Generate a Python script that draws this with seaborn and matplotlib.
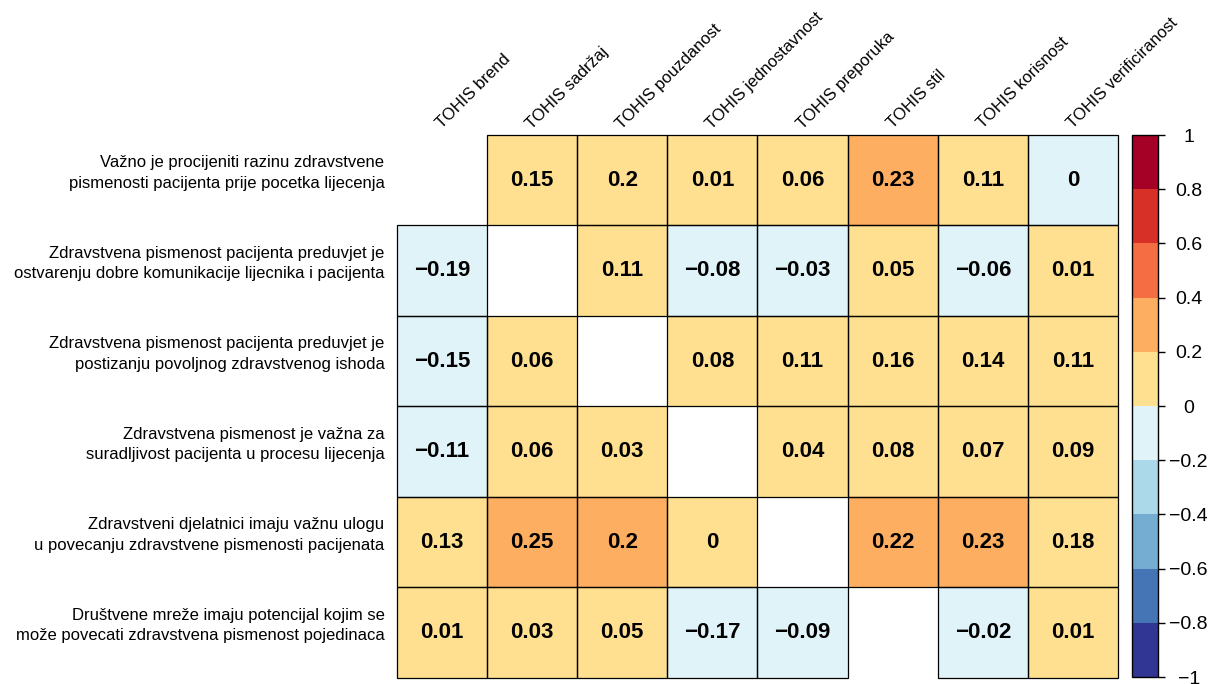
import numpy as np
import pandas as pd
import seaborn as sns
from matplotlib import pyplot as plt
from matplotlib.colors import ListedColormap
from matplotlib.patches import Rectangle

kolone = ["TOHIS brend", "TOHIS sadržaj", "TOHIS pouzdanost", "TOHIS jednostavnost",
          "TOHIS preporuka", "TOHIS stil", "TOHIS korisnost", "TOHIS verificiranost"]
redovi = ["Važno je procijeniti razinu zdravstvene\npismenosti pacijenta prije pocetka lijecenja",
          "Zdravstvena pismenost pacijenta preduvjet je\nostvarenju dobre komunikacije lijecnika i pacijenta",
          "Zdravstvena pismenost pacijenta preduvjet je\npostizanju povoljnog zdravstvenog ishoda",
          "Zdravstvena pismenost je važna za\nsuradljivost pacijenta u procesu lijecenja",
          "Zdravstveni djelatnici imaju važnu ulogu\nu povecanju zdravstvene pismenosti pacijenata",
          "Društvene mreže imaju potencijal kojim se\nmože povecati zdravstvena pismenost pojedinaca"]

red1 = [np.nan, 0.15, 0.198, 0.01, 0.06, 0.23, 0.11, -0.004]
red2 = [-0.19, np.nan, 0.11, -0.08, -0.03, 0.05, -0.06, 0.01]
red3 = [-0.15, 0.06, np.nan, 0.08, 0.11, 0.16, 0.14, 0.11]
red4 = [-0.11, 0.06, 0.03, np.nan, 0.04, 0.08, 0.07, 0.09]
red5 = [0.13, 0.25, 0.204, 0.004, np.nan, 0.22, 0.23, 0.18]
red6 = [0.01, 0.03, 0.05, -0.17, -0.09, np.nan, -0.02, 0.01]

boje = ["#313695", "#4575b4", "#74add1", "#abd9e9", "#e0f3f8",
        "#fee090", "#fdae61", "#f46d43", "#d73027", "#a50026"]

data = pd.DataFrame([red1, red2, red3, red4, red5, red6], index=redovi, columns=kolone)

def fmt(v):
    if np.isnan(v):
        return ""
    return f"{round(v, 2) + 0:g}".replace("-", "\u2212")

oznake = data.map(fmt).values

plt.rcParams['font.family'] = ['Liberation Sans', 'DejaVu Sans']
fig = plt.figure(figsize=(12.15, 6.84), dpi=100)
ax = fig.add_axes([0.3267, 0.0088, 0.5934, 0.7939])
cax = fig.add_axes([0.9318, 0.0102, 0.0214, 0.7924])

sns.heatmap(data, cmap=ListedColormap(boje), vmin=-1, vmax=1, ax=ax, cbar_ax=cax,
            annot=oznake, fmt="", annot_kws={"fontsize": 16, "fontweight": "bold", "color": "black"},
            linewidths=0)

# okviri samo oko popunjenih polja
for i in range(data.shape[0]):
    for j in range(data.shape[1]):
        if not np.isnan(data.iat[i, j]):
            ax.add_patch(Rectangle((j, i), 1, 1, fill=False, ec="black", lw=0.9, clip_on=False))

ax.xaxis.tick_top()
ax.set_xticks(np.arange(len(kolone)) + 0.5)
ax.set_xticklabels(kolone, rotation=45, ha="left", va="baseline", rotation_mode="anchor", fontsize=12)
ax.set_yticks(np.arange(len(redovi)) + 0.42)
ax.set_yticklabels(redovi, rotation=0, fontsize=12, linespacing=1.45)
ax.tick_params(axis="both", length=0)
ax.tick_params(axis="x", pad=4)
ax.tick_params(axis="y", pad=9)
ax.set_xlabel("")
ax.set_ylabel("")

tick = np.round(np.arange(-1, 1.01, 0.2), 1) + 0
cax.set_yticks(tick)
cax.set_yticklabels([f"{t:g}".replace("-", "\u2212") for t in tick], fontsize=14, ha="center")
cax.tick_params(length=5, width=1, color="black", pad=17)
cb = ax.collections[0].colorbar
cb.outline.set_edgecolor("black")
cb.outline.set_linewidth(1)

fig.savefig("out.png", dpi=100)
